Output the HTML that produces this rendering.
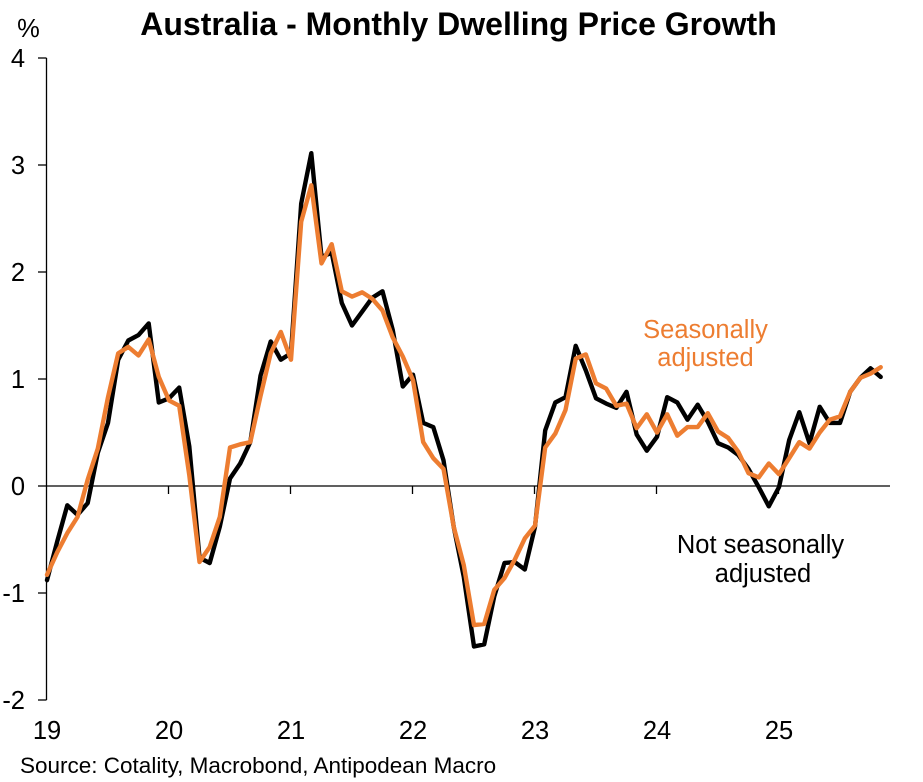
<!DOCTYPE html>
<html lang="en">
<head>
<meta charset="utf-8">
<title>Australia - Monthly Dwelling Price Growth</title>
<style>
html,body{margin:0;padding:0;background:#fff;}
svg{display:block;}
text{font-family:"Liberation Sans",Arial,sans-serif;fill:#000;}
</style>
</head>
<body>
<svg id="chart" width="923" height="782" viewBox="0 0 923 782" xmlns="http://www.w3.org/2000/svg">
<text x="458.5" y="35" text-anchor="middle" font-size="32" font-weight="bold">Australia - Monthly Dwelling Price Growth</text>
<text x="28.5" y="37" text-anchor="middle" font-size="25.5">%</text>
<g id="axes"></g>
<g id="series"></g>
<text font-size="25.5" text-anchor="middle" style="fill:#ED7D31"><tspan x="705.5" y="338">Seasonally</tspan><tspan x="705.5" y="366">adjusted</tspan></text>
<text font-size="25.5" text-anchor="middle"><tspan x="760.5" y="553">Not seasonally</tspan><tspan x="763" y="582">adjusted</tspan></text>
<text x="20" y="773" font-size="22.5">Source: Cotality, Macrobond, Antipodean Macro</text>
</svg>
<script>
const yTicks = [4, 3, 2, 1, 0, -1, -2];
const yearLabels = ["19", "20", "21", "22", "23", "24", "25"];
const notSeasonallyAdjusted = [
  -0.88, -0.52, -0.18, -0.27, -0.16, 0.31, 0.59, 1.18, 1.36, 1.41, 1.52, 0.78,
  0.82, 0.92, 0.37, -0.67, -0.72, -0.38, 0.07, 0.21, 0.41, 1.03, 1.35, 1.18,
  1.24, 2.64, 3.11, 2.14, 2.18, 1.71, 1.5, 1.63, 1.76, 1.82, 1.46, 0.93,
  1.04, 0.59, 0.55, 0.24, -0.38, -0.85, -1.5, -1.48, -1.03, -0.72, -0.71, -0.78,
  -0.38, 0.52, 0.78, 0.83, 1.31, 1.08, 0.82, 0.77, 0.73, 0.88, 0.48, 0.33,
  0.46, 0.83, 0.78, 0.62, 0.76, 0.6, 0.4, 0.36, 0.29, 0.16, -0.01, -0.19,
  -0.01, 0.43, 0.69, 0.4, 0.74, 0.59, 0.59, 0.88, 1.01, 1.1, 1.02
];
const seasonallyAdjusted = [
  -0.83, -0.62, -0.44, -0.29, 0.06, 0.35, 0.83, 1.24, 1.3, 1.22, 1.37, 1.02,
  0.8, 0.75, 0.1, -0.71, -0.57, -0.29, 0.36, 0.39, 0.41, 0.84, 1.24, 1.44,
  1.18, 2.47, 2.81, 2.08, 2.26, 1.82, 1.77, 1.81, 1.75, 1.64, 1.39, 1.21,
  0.99, 0.41, 0.26, 0.16, -0.38, -0.74, -1.3, -1.29, -0.97, -0.86, -0.69, -0.49,
  -0.37, 0.36, 0.49, 0.71, 1.19, 1.23, 0.96, 0.91, 0.75, 0.77, 0.54, 0.67,
  0.5, 0.67, 0.47, 0.55, 0.55, 0.68, 0.51, 0.45, 0.32, 0.12, 0.08, 0.21,
  0.11, 0.26, 0.41, 0.35, 0.5, 0.62, 0.65, 0.88, 1.01, 1.05, 1.11
];

const NS = "http://www.w3.org/2000/svg";
const X0 = 47, MONTH_W = 122 / 12, Y_ZERO = 486, UNIT_H = 107;
const xScale = function (month) { return X0 + month * MONTH_W; };
const yScale = function (value) { return Y_ZERO - value * UNIT_H; };
const axes = document.getElementById("axes");
const series = document.getElementById("series");

function makeLine(x1, y1, x2, y2) {
  const el = document.createElementNS(NS, "line");
  el.setAttribute("x1", x1);
  el.setAttribute("y1", y1);
  el.setAttribute("x2", x2);
  el.setAttribute("y2", y2);
  el.setAttribute("stroke", "#000");
  el.setAttribute("stroke-width", "1.3");
  axes.appendChild(el);
  return el;
}

const yAxis = makeLine(46.5, yScale(4), 46.5, yScale(-2));



const xAxis = makeLine(46.5, Y_ZERO, 890, Y_ZERO);



yTicks.forEach(function (t) {
  const tick = makeLine(38, yScale(t), 46.5, yScale(t));
  
  
  const label = document.createElementNS(NS, "text");
  
  
  label.setAttribute("x", "25");
  label.setAttribute("y", yScale(t) + 9);
  label.setAttribute("text-anchor", "end");
  label.setAttribute("font-size", "25.5");
  label.textContent = String(t);
  axes.appendChild(label);
});

yearLabels.forEach(function (y, i) {
  const x = xScale(i * 12);
  if (i > 0) {
    const tick = makeLine(x - 0.5, Y_ZERO, x - 0.5, Y_ZERO + 8);
    
    
  }
  const label = document.createElementNS(NS, "text");
  
  
  label.setAttribute("x", x);
  label.setAttribute("y", "739");
  label.setAttribute("text-anchor", "middle");
  label.setAttribute("font-size", "25.5");
  label.textContent = y;
  axes.appendChild(label);
});

function drawSeries(values, color) {
  const el = document.createElementNS(NS, "polyline");
  const pts = values.map(function (v, i) {
    return xScale(i).toFixed(1) + "," + yScale(v).toFixed(1);
  }).join(" ");
  el.setAttribute("points", pts);
  el.setAttribute("fill", "none");
  el.setAttribute("stroke", color);
  el.setAttribute("stroke-width", "4.4");
  el.setAttribute("stroke-linejoin", "round");
  el.setAttribute("stroke-linecap", "round");
  series.appendChild(el);
  return el;
}

const blackLine = drawSeries(notSeasonallyAdjusted, "#000");



const orangeLine = drawSeries(seasonallyAdjusted, "#ED7D31");


</script>
</body>
</html>
